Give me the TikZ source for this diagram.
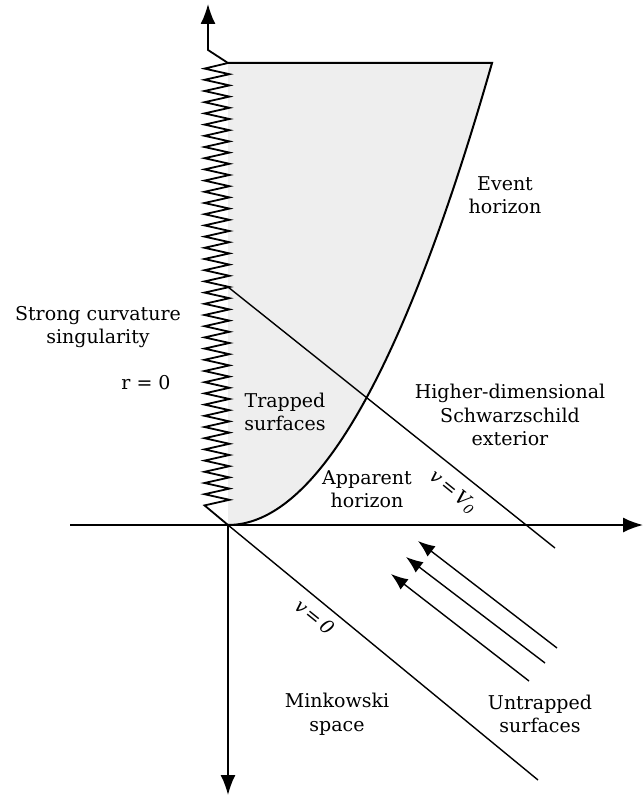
\documentclass[tikz,border=0pt]{standalone}
\usepackage{fontspec}
\setmainfont{DejaVu Serif}
\usetikzlibrary{arrows.meta,calc}

\begin{document}
\begin{tikzpicture}[
    x=1pt, y=-1pt,
    font=\fontsize{19}{23.5}\selectfont,
    axis/.style={line width=1.8pt, -{Latex[length=20pt,width=15pt]}},
    nullray/.style={line width=1.4pt},
    flow/.style={line width=1.4pt, -{Latex[length=17pt,width=13pt]}},
    horizon/.style={line width=2pt},
    txt/.style={align=center, inner sep=0pt}
]
\useasboundingbox (0,0) rectangle (644,797);

\coordinate (O) at (228,525);
\coordinate (top) at (228,63);
\coordinate (corner) at (492,63);
\coordinate (bend) at (208,50);
\coordinate (tup) at (208,4);
\coordinate (tdown) at (228,795);
\coordinate (rleft) at (70,525);
\coordinate (rright) at (643,525);
\coordinate (vstart) at (228,287);
\coordinate (vend) at (555,548);
\coordinate (zend) at (538,780);

% trapped region
\fill[gray!13] (top) -- (corner) .. controls (404,371) and (316,525) .. (O) -- cycle;
\draw[horizon] (top) -- (corner) .. controls (404,371) and (316,525) .. (O);

% singularity r=0
\draw[line width=1.8pt, line join=miter]
    (top) \foreach \k in {1,...,79} { -- ({217+12.5*cos(180*\k)}, {63+5.6*\k}) } -- (O);

% axes
\draw[axis] (top) -- (bend) -- (tup);
\draw[axis] (O) -- (tdown);
\draw[axis] (rleft) -- (rright);

% null lines
\draw[nullray] (vstart) -- (vend);
\draw[nullray] (O) -- (zend);

% incoming untrapped surfaces
\draw[flow] (557,648) -- (418,541);
\draw[flow] (545,663) -- (406,557);
\draw[flow] (529,681) -- (391,574);

\node[txt] (sing) at (98,327) {Strong curvature\\singularity};
\node[txt] (rzero) at (146,383) {r = 0};
\node[txt] (event) at (505,195) {Event\\horizon};
\node[txt] (trapped) at (285,412) {Trapped\\surfaces};
\node[txt] (exterior) at (510,415) {Higher-dimensional\\Schwarzschild\\exterior};
\node[txt] (apparent) at (367,489) {Apparent\\horizon};
\node[txt, rotate=-39] (vlabel) at (453,492) {\itshape v\,=\,V\textsubscript{0}};
\node[txt, rotate=-39] (zlabel) at (315,617) {\itshape v\,=\,0};
\node[txt] (mink) at (337,714) {Minkowski\\space};
\node[txt] (untrapped) at (540,714) {Untrapped\\surfaces};
\end{tikzpicture}
\end{document}
